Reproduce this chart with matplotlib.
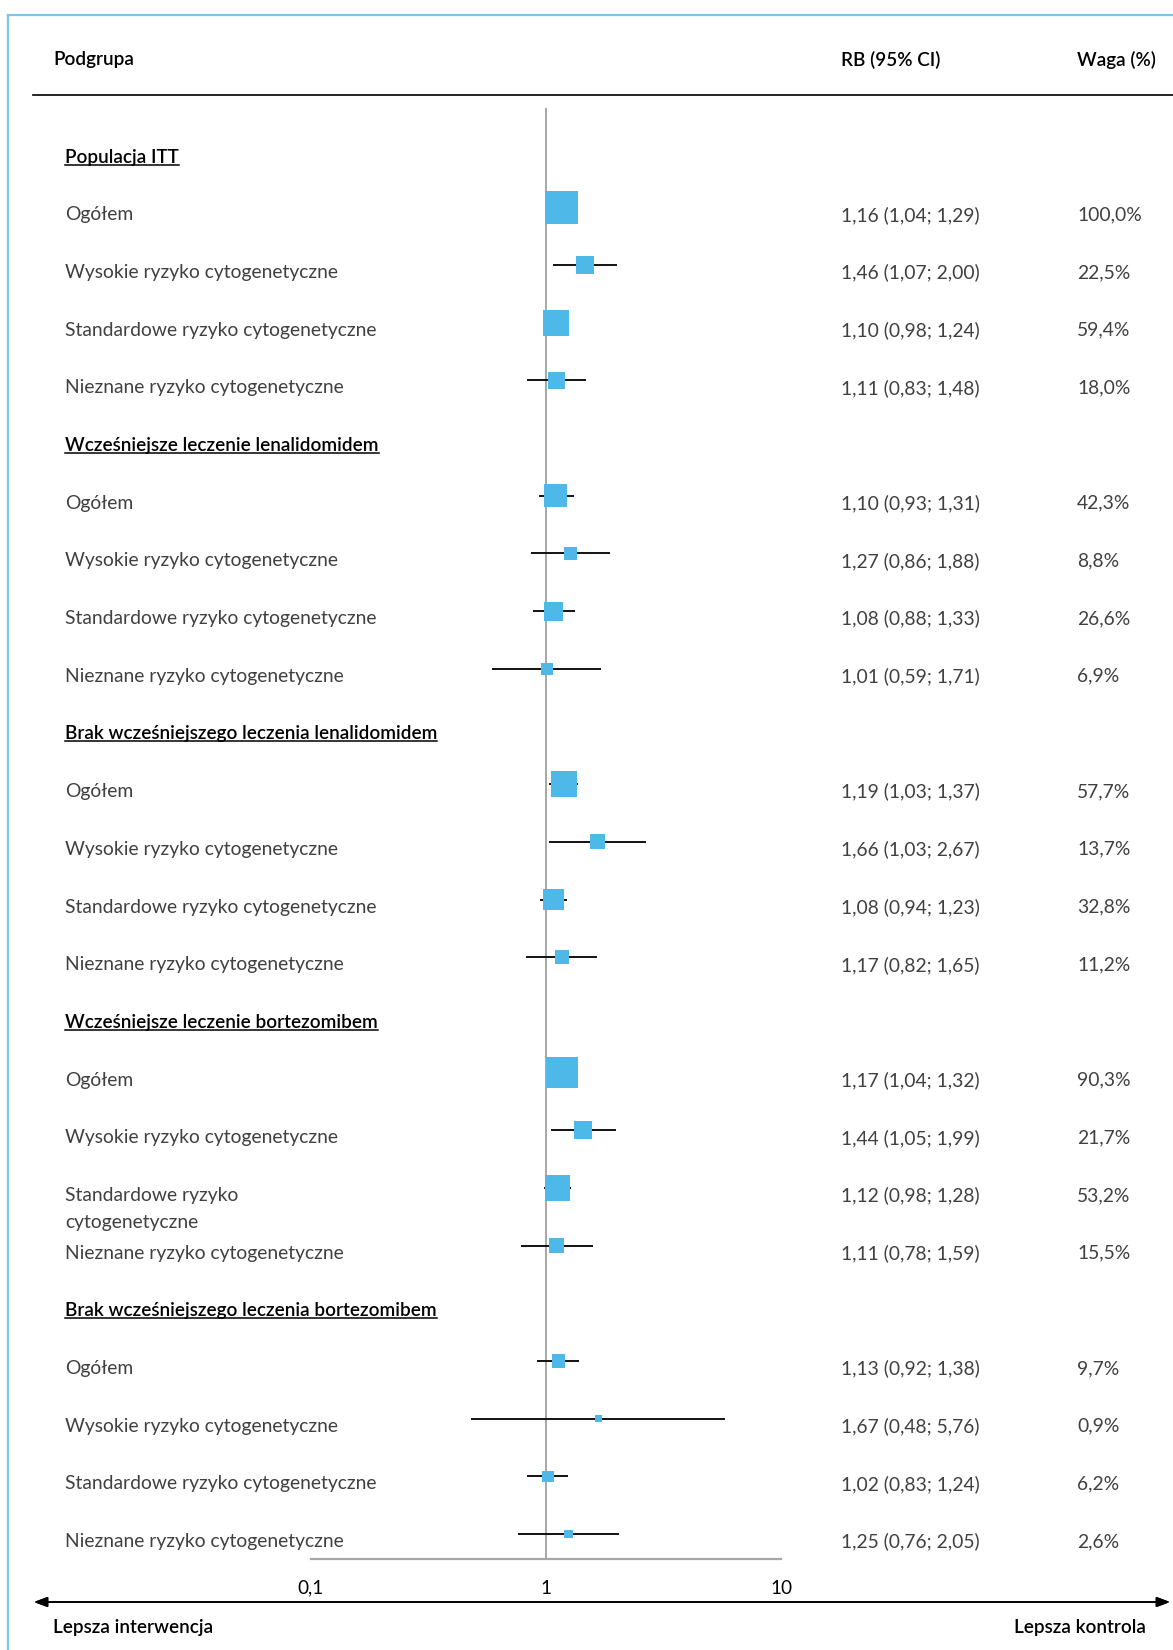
import numpy as np
import matplotlib
matplotlib.use("Agg")
import matplotlib.pyplot as plt
from matplotlib.ticker import FixedLocator, NullFormatter
from matplotlib.lines import Line2D
import matplotlib.transforms as mtransforms

plt.rcParams["font.family"] = ["Lato", "DejaVu Sans"]

groups = [
    "Populacja ITT",
    "Wcześniejsze leczenie lenalidomidem",
    "Brak wcześniejszego leczenia lenalidomidem",
    "Wcześniejsze leczenie bortezomibem",
    "Brak wcześniejszego leczenia bortezomibem",
]
subgroups = [
    ["Ogółem", "Wysokie ryzyko cytogenetyczne", "Standardowe ryzyko cytogenetyczne", "Nieznane ryzyko cytogenetyczne"],
    ["Ogółem", "Wysokie ryzyko cytogenetyczne", "Standardowe ryzyko cytogenetyczne", "Nieznane ryzyko cytogenetyczne"],
    ["Ogółem", "Wysokie ryzyko cytogenetyczne", "Standardowe ryzyko cytogenetyczne", "Nieznane ryzyko cytogenetyczne"],
    ["Ogółem", "Wysokie ryzyko cytogenetyczne", "Standardowe ryzyko\ncytogenetyczne", "Nieznane ryzyko cytogenetyczne"],
    ["Ogółem", "Wysokie ryzyko cytogenetyczne", "Standardowe ryzyko cytogenetyczne", "Nieznane ryzyko cytogenetyczne"],
]
rb = [1.16, 1.46, 1.10, 1.11,
      1.10, 1.27, 1.08, 1.01,
      1.19, 1.66, 1.08, 1.17,
      1.17, 1.44, 1.12, 1.11,
      1.13, 1.67, 1.02, 1.25]
ci_lo = [1.04, 1.07, 0.98, 0.83,
         0.93, 0.86, 0.88, 0.59,
         1.03, 1.03, 0.94, 0.82,
         1.04, 1.05, 0.98, 0.78,
         0.92, 0.48, 0.83, 0.76]
ci_hi = [1.29, 2.00, 1.24, 1.48,
         1.31, 1.88, 1.33, 1.71,
         1.37, 2.67, 1.23, 1.65,
         1.32, 1.99, 1.28, 1.59,
         1.38, 5.76, 1.24, 2.05]
waga = [100.0, 22.5, 59.4, 18.0,
        42.3, 8.8, 26.6, 6.9,
        57.7, 13.7, 32.8, 11.2,
        90.3, 21.7, 53.2, 15.5,
        9.7, 0.9, 6.2, 2.6]
tick_vals = [0.1, 1, 10]
tick_labels = ["0,1", "1", "10"]


def fmt(v):
    return f"{v:.2f}".replace(".", ",")


W, H = 1173, 1650
fig = plt.figure(figsize=(W / 100, H / 100), dpi=100)

BLUE = "#4EB9E9"
TXT = "#404040"
FS = 13.9      # row text
FS_H = 13.6    # headings

# forest panel: 0.1..10 on a log axis, rows counted downward
ax = fig.add_axes([311 / W, 1 - 1559 / H, 470 / W, (1559 - 108) / H])
ax.set_xscale("log")
ax.set_xlim(0.1, 10)
n_rows = len(groups) * 5
row_px = 57.7
ax.set_ylim(n_rows - 1 + (1559 - 1540) / row_px, -(155.7 - 108) / row_px)
for s in ["top", "right", "left"]:
    ax.spines[s].set_visible(False)
ax.spines["bottom"].set_color("#a6a6a6")
ax.spines["bottom"].set_linewidth(1.6)
ax.set_yticks([])
ax.xaxis.set_major_locator(FixedLocator(tick_vals))
ax.set_xticklabels(tick_labels, fontsize=FS_H, color="black")
ax.xaxis.set_minor_locator(FixedLocator([0.1, 10]))
ax.xaxis.set_minor_formatter(NullFormatter())
ax.tick_params(axis="x", which="major", length=0, pad=15)
ax.tick_params(axis="x", which="minor", length=4.5, width=1.6, color="#a6a6a6", direction="out")
ax.axvline(1, color="#8f8f8f", lw=1.1, zorder=1)

# text lives in figure-x / data-y coordinates
trans = mtransforms.blended_transform_factory(fig.transFigure, ax.transData)
x_lab = 65 / W
x_rb = 841 / W
x_wg = 1077 / W
mark_off = -6 / row_px

header_texts = []
row = 0
k = 0
for g, subs in zip(groups, subgroups):
    t = fig.text(x_lab, row, g, transform=trans, fontsize=FS_H, color="black",
                 va="center_baseline", ha="left", fontweight="semibold")
    header_texts.append(t)
    row += 1
    for lab in subs:
        for j, line in enumerate(lab.split("\n")):
            fig.text(x_lab, row + j * 0.475, line, transform=trans, fontsize=FS,
                     color=TXT, va="center_baseline", ha="left")
        fig.text(x_rb, row, f"{fmt(rb[k])} ({fmt(ci_lo[k])}; {fmt(ci_hi[k])})",
                 transform=trans, fontsize=FS, color=TXT, va="center_baseline",
                 ha="left")
        fig.text(x_wg, row, f"{waga[k]:.1f}%".replace(".", ","), transform=trans,
                 fontsize=FS, color=TXT, va="center_baseline", ha="left")
        y = row + mark_off
        ax.plot([ci_lo[k], ci_hi[k]], [y, y], color="#111111", lw=1.4,
                solid_capstyle="butt", zorder=2, clip_on=False)
        side_px = 4.3 + 28.7 * np.sqrt(waga[k] / 100)
        side_pt = side_px * 72 / 100
        ax.scatter([rb[k]], [y], marker="s", s=side_pt ** 2, color=BLUE,
                   edgecolors="none", zorder=3, clip_on=False)
        row += 1
        k += 1

# column headings
head_y = 1 - 60 / H
fig.text(53 / W, head_y, "Podgrupa", fontsize=FS_H, color="black", va="center",
         fontweight="semibold")
fig.text(841 / W, head_y, "RB (95% CI)", fontsize=FS_H, color="black", va="center",
         fontweight="semibold")
fig.text(1077 / W, head_y, "Waga (%)", fontsize=FS_H, color="black", va="center",
         fontweight="semibold")
fig.add_artist(Line2D([33 / W, 1], [1 - 95 / H] * 2, color="black", lw=1.2))

# direction arrow and captions
fig.add_artist(plt.annotate("", xy=(34 / W, 1 - 1602 / H), xytext=(1170 / W, 1 - 1602 / H),
                            xycoords="figure fraction", textcoords="figure fraction",
                            arrowprops=dict(arrowstyle="<|-|>,head_length=0.8,head_width=0.3",
                                            color="black", lw=1.2, shrinkA=0, shrinkB=0)))
fig.text(53 / W, 1 - 1627 / H, "Lepsza interwencja", fontsize=FS_H, color="black",
         va="center", fontweight="semibold")
fig.text(1146 / W, 1 - 1627 / H, "Lepsza kontrola", fontsize=FS_H, color="black",
         va="center", ha="right", fontweight="semibold")

# light blue frame on the left and top
fig.add_artist(Line2D([8 / W, 8 / W], [0, 1 - 15 / H], color="#7cc6ec", lw=1.6))
fig.add_artist(Line2D([8 / W, 1], [1 - 15 / H] * 2, color="#7cc6ec", lw=1.6))

# underline the group headings
fig.canvas.draw()
renderer = fig.canvas.get_renderer()
for t in header_texts:
    bb = t.get_window_extent(renderer)
    y0 = bb.y0 + 1
    fig.add_artist(Line2D([bb.x0 / W, bb.x1 / W], [y0 / H, y0 / H], color="black", lw=1.1))

fig.savefig("out.png", dpi=100)
